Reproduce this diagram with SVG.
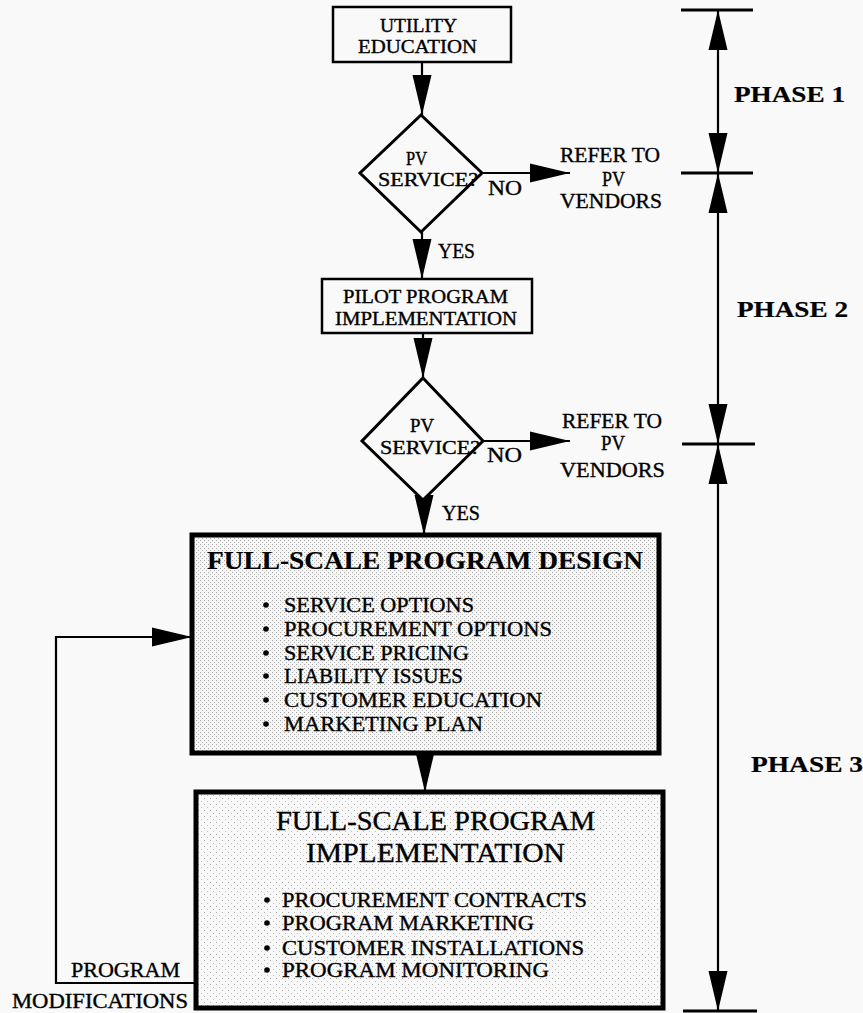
<svg xmlns="http://www.w3.org/2000/svg" width="863" height="1013" viewBox="0 0 863 1013">
  <defs>
    <!-- narrow filled arrowhead shared by all connectors -->
    <marker id="head" markerUnits="userSpaceOnUse" markerWidth="40" markerHeight="20" viewBox="0 0 40 20" refX="40" refY="10" orient="auto-start-reverse">
      <path d="M0,0.5 L40,10 L0,19.5 Z" fill="#000"/>
    </marker>
    <!-- halftone stipple for the shaded boxes -->
    <pattern id="stippleDense" width="4" height="4" patternUnits="userSpaceOnUse">
      <rect width="4" height="4" fill="#f7f7f7"/>
      <rect x="0" y="0" width="1" height="1" fill="#a4a4a4"/>
      <rect x="2" y="2" width="1" height="1" fill="#b4b4b4"/>
    </pattern>
    <pattern id="stippleLight" width="6" height="6" patternUnits="userSpaceOnUse">
      <rect width="6" height="6" fill="#f8f8f8"/>
      <rect x="0" y="0" width="1" height="1" fill="#ababab"/>
      <rect x="3" y="3" width="1" height="1" fill="#c0c0c0"/>
    </pattern>
    <style>
      .box { fill: #f9f9f9; stroke: #000; stroke-width: 2.5; }
      .diamond { fill: #f9f9f9; stroke: #000; stroke-width: 3; }
      .big { stroke: #000; stroke-width: 5; }
      .t { font-family: "Liberation Serif", "Times New Roman", serif; fill: #000; stroke: #000; stroke-width: 0.35; }
      .s18 { font-size: 18px; }
      .s19 { font-size: 19px; }
      .s20 { font-size: 20px; }
      .s21 { font-size: 21px; }
      .bold { font-weight: bold; stroke-width: 0.2; }
      .conn { fill: none; stroke: #000; stroke-width: 2.2; }
      .arrow { marker-end: url(#head); }
      .tick { stroke: #000; stroke-width: 3; }
      .bullet { fill: #000; }
    </style>
  </defs>

  <rect width="863" height="1013" fill="#f9f9f9"/>

  <!-- connectors -->
  <g id="connectors">
    <line class="conn arrow" x1="422" y1="62" x2="422" y2="115"/>
    <line class="conn arrow" x1="482" y1="173" x2="570" y2="173"/>
    <line class="conn arrow" x1="422" y1="232" x2="422" y2="279"/>
    <line class="conn arrow" x1="423" y1="333" x2="423" y2="378"/>
    <line class="conn arrow" x1="483" y1="441" x2="570" y2="441"/>
    <line class="conn arrow" x1="424" y1="500" x2="424" y2="535"/>
    <line class="conn arrow" x1="425" y1="753" x2="425" y2="792"/>
    <path class="conn arrow" d="M197,983 H56 V637 H192" stroke-width="2.8"/>
  </g>

  <!-- phase scale -->
  <g id="phase-scale">
    <line class="tick" x1="681" y1="10" x2="753" y2="10"/>
    <line class="tick" x1="681" y1="173" x2="753" y2="173"/>
    <line class="tick" x1="682" y1="444" x2="755" y2="444"/>
    <line class="tick" x1="683" y1="1011" x2="757" y2="1011"/>
    <line class="conn" x1="718" y1="10" x2="718" y2="173" marker-start="url(#head)" marker-end="url(#head)"/>
    <line class="conn" x1="718" y1="173" x2="718" y2="444" marker-start="url(#head)" marker-end="url(#head)"/>
    <line class="conn" x1="718" y1="444" x2="718" y2="1011" marker-start="url(#head)" marker-end="url(#head)"/>
    <text class="t bold" x="734" y="102" font-size="24" textLength="111" lengthAdjust="spacingAndGlyphs">PHASE 1</text>
    <text class="t bold" x="737" y="317" font-size="24" textLength="111" lengthAdjust="spacingAndGlyphs">PHASE 2</text>
    <text class="t bold" x="751" y="772" font-size="24" textLength="112" lengthAdjust="spacingAndGlyphs">PHASE 3</text>
  </g>

  <!-- utility education -->
  <g id="utility-education">
    <rect class="box" x="333" y="7" width="178" height="55"/>
    <text class="t s19" x="380" y="32" textLength="77" lengthAdjust="spacingAndGlyphs">UTILITY</text>
    <text class="t s19" x="358" y="53" textLength="119" lengthAdjust="spacingAndGlyphs">EDUCATION</text>
  </g>

  <!-- first decision -->
  <g id="decision-1">
    <polygon class="diamond" points="421,115 482,173 421,232 360,173"/>
    <text class="t s18" x="406" y="165" textLength="21" lengthAdjust="spacingAndGlyphs">PV</text>
    <text class="t s18" x="378" y="186" textLength="100" lengthAdjust="spacingAndGlyphs">SERVICE?</text>
    <text class="t s21" x="488" y="195" textLength="34" lengthAdjust="spacingAndGlyphs">NO</text>
    <text class="t s21" x="438" y="258" textLength="37" lengthAdjust="spacingAndGlyphs">YES</text>
  </g>

  <g id="refer-vendors-1">
    <text class="t s21" x="560" y="162" textLength="100" lengthAdjust="spacingAndGlyphs">REFER TO</text>
    <text class="t s21" x="602" y="186" textLength="23" lengthAdjust="spacingAndGlyphs">PV</text>
    <text class="t s21" x="560" y="208" textLength="102" lengthAdjust="spacingAndGlyphs">VENDORS</text>
  </g>

  <!-- pilot program -->
  <g id="pilot-program">
    <rect class="box" x="322" y="279" width="210" height="54"/>
    <text class="t s19" x="343" y="303" textLength="165" lengthAdjust="spacingAndGlyphs">PILOT PROGRAM</text>
    <text class="t s19" x="335" y="325" textLength="182" lengthAdjust="spacingAndGlyphs">IMPLEMENTATION</text>
  </g>

  <!-- second decision -->
  <g id="decision-2">
    <polygon class="diamond" points="423,378 483,441 423,500 362,441"/>
    <text class="t s18" x="410" y="432" textLength="24" lengthAdjust="spacingAndGlyphs">PV</text>
    <text class="t s18" x="380" y="454" textLength="100" lengthAdjust="spacingAndGlyphs">SERVICE?</text>
    <text class="t s21" x="487" y="462" textLength="35" lengthAdjust="spacingAndGlyphs">NO</text>
    <text class="t s21" x="442" y="520" textLength="38" lengthAdjust="spacingAndGlyphs">YES</text>
  </g>

  <g id="refer-vendors-2">
    <text class="t s21" x="562" y="428" textLength="100" lengthAdjust="spacingAndGlyphs">REFER TO</text>
    <text class="t s21" x="601" y="450" textLength="24" lengthAdjust="spacingAndGlyphs">PV</text>
    <text class="t s21" x="560" y="477" textLength="105" lengthAdjust="spacingAndGlyphs">VENDORS</text>
  </g>

  <!-- full-scale design -->
  <g id="program-design">
    <rect class="big" x="192" y="535" width="467" height="218" fill="url(#stippleDense)"/>
    <text class="t bold" x="207" y="569" font-size="25" textLength="436" lengthAdjust="spacingAndGlyphs">FULL-SCALE PROGRAM DESIGN</text>
    <g class="bullet">
      <circle cx="266" cy="605" r="2.8"/>
      <circle cx="266" cy="629" r="2.8"/>
      <circle cx="266" cy="653" r="2.8"/>
      <circle cx="266" cy="676" r="2.8"/>
      <circle cx="266" cy="700" r="2.8"/>
      <circle cx="266" cy="724" r="2.8"/>
    </g>
    <text class="t s21" x="284" y="612" textLength="190" lengthAdjust="spacingAndGlyphs">SERVICE OPTIONS</text>
    <text class="t s21" x="284" y="636" textLength="268" lengthAdjust="spacingAndGlyphs">PROCUREMENT OPTIONS</text>
    <text class="t s21" x="284" y="660" textLength="185" lengthAdjust="spacingAndGlyphs">SERVICE PRICING</text>
    <text class="t s21" x="284" y="683" textLength="179" lengthAdjust="spacingAndGlyphs">LIABILITY ISSUES</text>
    <text class="t s21" x="284" y="707" textLength="258" lengthAdjust="spacingAndGlyphs">CUSTOMER EDUCATION</text>
    <text class="t s21" x="284" y="731" textLength="199" lengthAdjust="spacingAndGlyphs">MARKETING PLAN</text>
  </g>

  <!-- full-scale implementation -->
  <g id="program-implementation">
    <rect class="big" x="196" y="792" width="467" height="216" fill="url(#stippleLight)" stroke-width="4.5"/>
    <text class="t" x="276" y="830" font-size="27" textLength="319" lengthAdjust="spacingAndGlyphs">FULL-SCALE PROGRAM</text>
    <text class="t" x="306" y="862" font-size="27" textLength="259" lengthAdjust="spacingAndGlyphs">IMPLEMENTATION</text>
    <g class="bullet">
      <circle cx="267" cy="900" r="2.8"/>
      <circle cx="267" cy="923" r="2.8"/>
      <circle cx="267" cy="948" r="2.8"/>
      <circle cx="267" cy="970" r="2.8"/>
    </g>
    <text class="t s21" x="282" y="907" textLength="305" lengthAdjust="spacingAndGlyphs">PROCUREMENT CONTRACTS</text>
    <text class="t s21" x="282" y="930" textLength="252" lengthAdjust="spacingAndGlyphs">PROGRAM MARKETING</text>
    <text class="t s21" x="282" y="955" textLength="302" lengthAdjust="spacingAndGlyphs">CUSTOMER INSTALLATIONS</text>
    <text class="t s21" x="282" y="977" textLength="267" lengthAdjust="spacingAndGlyphs">PROGRAM MONITORING</text>
  </g>

  <!-- feedback label -->
  <g id="modifications-label">
    <text class="t s21" x="71" y="977" textLength="109" lengthAdjust="spacingAndGlyphs">PROGRAM</text>
    <text class="t s20" x="12" y="1008" textLength="176" lengthAdjust="spacingAndGlyphs">MODIFICATIONS</text>
  </g>
</svg>
